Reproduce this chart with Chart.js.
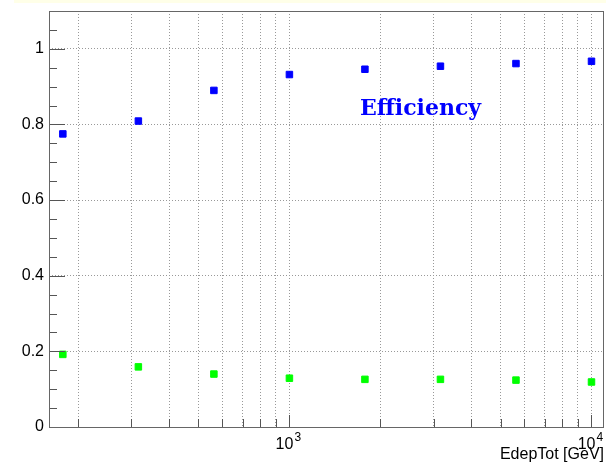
<!DOCTYPE html>
<html>
<head>
<meta charset="utf-8">
<script src="https://cdn.jsdelivr.net/npm/chart.js@4.4.1/dist/chart.umd.min.js"></script>
<style>
  html, body { margin: 0; padding: 0; background: #fff; }
  #wrap { width: 606px; height: 464px; }
</style>
</head>
<body>
<div id="wrap"><canvas id="chart" width="606" height="464"></canvas></div>
<script>
'use strict';

// energy points (GeV)
let energies = [177.8, 316.2, 562.3, 1000, 1778, 3162, 5623, 10000];
let efficiency = [0.775, 0.809, 0.890, 0.932, 0.946, 0.954, 0.961, 0.967];
let otherFrac = [0.192, 0.159, 0.140, 0.129, 0.126, 0.126, 0.124, 0.119];

let yTickValues = [0, 0.2, 0.4, 0.6, 0.8, 1];
let xGridValues = [200, 300, 400, 500, 600, 700, 800, 900, 1000,
  2000, 3000, 4000, 5000, 6000, 7000, 8000, 9000, 10000];
let xDecadeLabels = { 1000: '3', 10000: '4' };

let canvasElem = document.getElementById('chart');

function toPoints(xs, ys) {
  let pts = [];
  for (let i = 0; i < xs.length; i++) {
    pts.push({ x: xs[i], y: ys[i] });
  }
  return pts;
}

// ROOT style frame, inward ticks and the text label
let rootFrame = {
  id: 'rootFrame',
  beforeDraw(chart) {
    let ctx = chart.ctx;
    ctx.save();
    ctx.fillStyle = '#ffffe8';
    ctx.fillRect(14, 0, 592, 3);
    ctx.restore();
  },
  afterDatasetsDraw(chart) {
    let ctx = chart.ctx;
    let a = chart.chartArea;
    let xs = chart.scales.x;
    let ys = chart.scales.y;
    ctx.save();
    ctx.strokeStyle = '#555';
    ctx.lineWidth = 1;
    ctx.beginPath();
    // y ticks: major every 0.2, minor every 0.05
    for (let k = 0; k <= 22; k++) {
      let v = k * 0.05;
      let py = Math.round(ys.getPixelForValue(v)) + 0.5;
      let len = (k % 4 === 0) ? 16 : 8;
      ctx.moveTo(a.left, py);
      ctx.lineTo(a.left + len, py);
    }
    // x ticks
    for (let i = 0; i < xGridValues.length; i++) {
      let v = xGridValues[i];
      let px = Math.round(xs.getPixelForValue(v)) + 0.5;
      let len = xDecadeLabels[v] ? 12 : 8;
      ctx.moveTo(px, a.bottom);
      ctx.lineTo(px, a.bottom - len);
    }
    ctx.stroke();
    ctx.strokeStyle = '#666';
    ctx.strokeRect(a.left + 0.5, a.top + 0.5, a.right - a.left - 1, a.bottom - a.top);

    // decade labels 10^n
    ctx.fillStyle = '#000';
    ctx.textBaseline = 'alphabetic';
    for (let v in xDecadeLabels) {
      let px = xs.getPixelForValue(+v);
      ctx.font = '16px "Liberation Sans"';
      ctx.textAlign = 'right';
      ctx.fillText('10', px + 4, 449);
      ctx.font = '12px "Liberation Sans"';
      ctx.textAlign = 'left';
      ctx.fillText(xDecadeLabels[v], px + 5, 441);
    }

    ctx.fillStyle = '#0000ff';
    ctx.font = 'bold 22px "DejaVu Serif"';
    ctx.textAlign = 'left';
    ctx.fillText('Efficiency', 360, 115);
    ctx.restore();
  }
};

function renderChart() {
  let chartConfig = {
    type: 'scatter',
    data: {
      datasets: [{
        label: 'Efficiency',
        data: toPoints(energies, efficiency),
        backgroundColor: '#0000ff',
        borderColor: '#0000ff',
        pointStyle: 'rect',
        pointRadius: 4.6,
        pointBorderWidth: 1
      },
      {
        label: 'Other',
        data: toPoints(energies, otherFrac),
        backgroundColor: '#00ff00',
        borderColor: '#00ff00',
        pointStyle: 'rect',
        pointRadius: 4.6,
        pointBorderWidth: 1
      }]
    },
    options: {
      responsive: false,
      animation: false,
      layout: {
        autoPadding: false,
        padding: { left: 0, top: 11, right: 2, bottom: 0 }
      },
      plugins: {
        legend: { display: false },
        tooltip: { enabled: false }
      },
      scales: {
        x: {
          type: 'logarithmic',
          min: 160,
          max: 11000,
          afterBuildTicks: function (scale) {
            scale.ticks = xGridValues.map(function (v) { return { value: v }; });
          },
          afterFit: function (scale) {
            scale.height = 37;
            scale.paddingLeft = 0;
            scale.paddingRight = 0;
          },
          grid: { color: '#999', lineWidth: 1, drawTicks: false },
          border: { display: false, dash: [1, 2] },
          ticks: { display: false },
          title: {
            display: true,
            text: 'EdepTot [GeV]',
            align: 'end',
            color: '#000',
            font: { family: '"Liberation Sans"', size: 16 },
            padding: { top: 0, bottom: 0 }
          }
        },
        y: {
          min: 0,
          max: 1.1,
          afterFit: function (scale) {
            scale.width = 49;
            scale.paddingTop = 0;
            scale.paddingBottom = 0;
          },
          grid: { color: '#999', lineWidth: 1, drawTicks: false },
          border: { display: false, dash: [1, 2] },
          ticks: {
            stepSize: 0.2,
            includeBounds: false,
            padding: 5,
            color: '#000',
            font: { family: '"Liberation Sans"', size: 16 },
            callback: function (v) { return String(+v.toFixed(1)); }
          }
        }
      }
    },
    plugins: [rootFrame]
  };
  new Chart(canvasElem, chartConfig);
}

renderChart();
</script>
</body>
</html>
